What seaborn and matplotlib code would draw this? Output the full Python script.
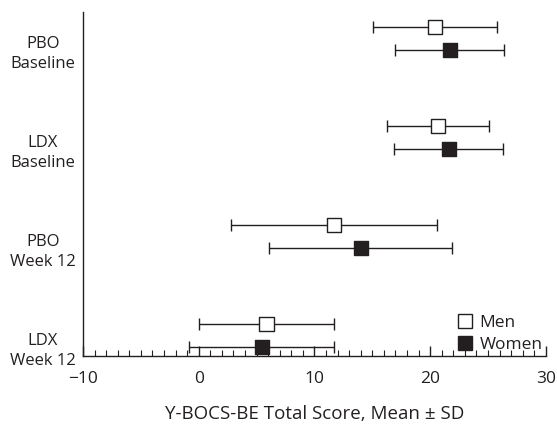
import numpy as np
import pandas as pd
import matplotlib
matplotlib.use("Agg")
import matplotlib.pyplot as plt
from matplotlib.lines import Line2D
import seaborn as sns

categories = ["PBO\nBaseline", "LDX\nBaseline", "PBO\nWeek 12", "LDX\nWeek 12"]
men_mean = [20.4, 20.7, 11.7, 5.85]
men_sd = [5.35, 4.4, 8.9, 5.85]
women_mean = [21.7, 21.6, 14.0, 5.45]
women_sd = [4.7, 4.7, 7.9, 6.25]
x_ticks = [-10, 0, 10, 20, 30]

INK = "#231f20"
sns.set_theme(style="white")
plt.rcParams["font.family"] = ["Open Sans", "DejaVu Sans"]
plt.rcParams["text.color"] = INK

off = 0.117
rows = []
for i, c in enumerate(categories):
    rows.append(dict(cat=c, sex="Men", mean=men_mean[i], sd=men_sd[i], pos=i - off))
    rows.append(dict(cat=c, sex="Women", mean=women_mean[i], sd=women_sd[i], pos=i + off))
df = pd.DataFrame(rows)

fig = plt.figure(figsize=(5.57, 4.24), dpi=100)
ax = fig.add_axes([0.149, 0.160, 0.831, 0.812])

ax.errorbar(df["mean"], df["pos"], xerr=df["sd"], fmt="none", ecolor=INK,
            elinewidth=1.0, capsize=4.5, capthick=1.0, zorder=2)
sns.scatterplot(data=df, x="mean", y="pos", hue="sex",
                palette={"Men": "white", "Women": INK}, marker="s", s=105,
                edgecolor=INK, linewidth=1.0, zorder=3, legend=False, ax=ax)

ax.set_xlim(-10, 30)
ax.set_ylim(3.21, -0.27)
ax.set_xticks(x_ticks)
ax.set_xticks(np.arange(-10, 31, 1), minor=True)
ax.set_yticks([i + off for i in range(len(categories))])
ax.set_yticklabels(categories, ha="center", fontsize=12, color=INK, linespacing=1.3)
ax.tick_params(axis="y", length=0, pad=29)
ax.tick_params(axis="x", which="major", direction="in", length=7, width=1.0,
               color=INK, labelsize=12.5, labelcolor=INK, pad=11, bottom=True)
ax.tick_params(axis="x", which="minor", direction="in", length=4, width=0.8,
               color=INK, bottom=True)
for s in ["top", "right"]:
    ax.spines[s].set_visible(False)
for s in ["left", "bottom"]:
    ax.spines[s].set_color(INK)
    ax.spines[s].set_linewidth(1.0)
ax.set_xlabel("Y-BOCS-BE Total Score, Mean \u00b1 SD", fontsize=13.5, color=INK, labelpad=13)
ax.set_ylabel("")

handles = [
    Line2D([], [], marker="s", linestyle="none", markersize=10.5,
           markerfacecolor="white", markeredgecolor=INK, markeredgewidth=1.0),
    Line2D([], [], marker="s", linestyle="none", markersize=10.5,
           markerfacecolor=INK, markeredgecolor=INK, markeredgewidth=1.0),
]
ax.legend(handles, ["Men", "Women"], loc="lower right", bbox_to_anchor=(1.0, 0.0),
          frameon=False, fontsize=12.5, handletextpad=0.3, handlelength=1.0,
          labelspacing=0.3, borderaxespad=0.0, borderpad=0.2)

fig.savefig("out.png", dpi=100)
